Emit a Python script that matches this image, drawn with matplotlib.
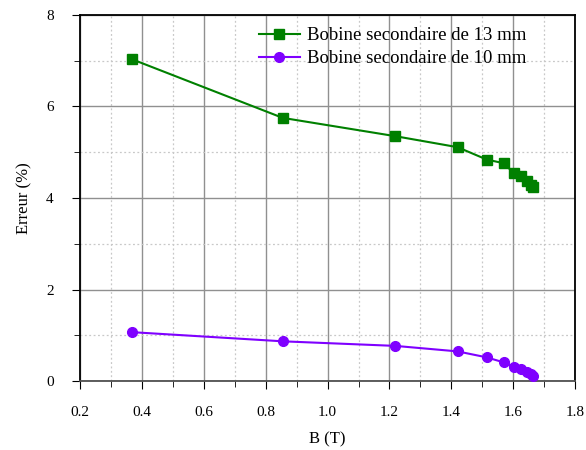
import numpy as np
import matplotlib
matplotlib.use("Agg")
import matplotlib.pyplot as plt
from matplotlib.ticker import MultipleLocator

# valeurs
b_champ = [0.368, 0.855, 1.219, 1.420, 1.514, 1.569, 1.601, 1.624, 1.646, 1.658, 1.663]
erreur_13mm = [7.03, 5.75, 5.35, 5.11, 4.84, 4.76, 4.55, 4.47, 4.37, 4.28, 4.23]
erreur_10mm = [1.07, 0.87, 0.77, 0.65, 0.52, 0.41, 0.31, 0.26, 0.20, 0.15, 0.11]

plt.rcParams['font.family'] = ['Liberation Serif', 'DejaVu Serif']

fig = plt.figure(figsize=(5.86, 4.5), dpi=100)
ax = fig.add_axes([0.1365, 0.153, 0.845, 0.814])

ax.plot(b_champ, erreur_13mm, "-s", color="#008000", lw=1.5, ms=6.5,
        label="Bobine secondaire de 13 mm", zorder=3)
ax.plot(b_champ, erreur_10mm, "-o", color="#7f00ff", lw=1.5, ms=7,
        label="Bobine secondaire de 10 mm", zorder=3)

ax.set_xlim(0.2, 1.8)
ax.set_ylim(0, 8)
ax.xaxis.set_major_locator(MultipleLocator(0.2))
ax.xaxis.set_minor_locator(MultipleLocator(0.1))
ax.yaxis.set_major_locator(MultipleLocator(2))
ax.yaxis.set_minor_locator(MultipleLocator(1))

ax.grid(which="major", color="#909090", lw=1.0, ls="-")
ax.grid(which="minor", color="#c8c8c8", lw=0.9, ls=(0, (1.5, 2)))
ax.set_axisbelow(True)

ax.tick_params(which="major", direction="out", length=6, labelsize=11)
ax.tick_params(which="minor", direction="out", length=4)
ax.tick_params(axis="x", which="major", pad=12)
ax.tick_params(axis="y", which="major", pad=13)
for s in ax.spines.values():
    s.set_linewidth(1.3)
ax.spines["bottom"].set_color("#505050")

ax.set_xlabel("B (T)", fontsize=12, labelpad=9)
ax.set_ylabel("Erreur (%)", fontsize=12, labelpad=10)

ax.legend(loc="upper right", frameon=False, fontsize=13.5, handlelength=2.2,
          borderaxespad=0.2, labelspacing=0.3, handletextpad=0.4,
          bbox_to_anchor=(0.925, 0.997))

fig.savefig("out.png", dpi=100)
